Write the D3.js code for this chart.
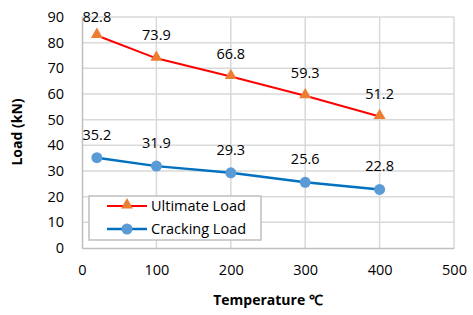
<!doctype html>
<html>
<head>
  <script src="https://d3js.org/d3.v7.min.js"></script>
  <style>
    body { margin: 0; background: #fff; }
    text { font-family: "Open Sans", "Liberation Sans", sans-serif; fill: #000; }
  </style>
</head>
<body>
<svg width="473" height="315"></svg>
<script>
  // chart values
  var temps = [20, 100, 200, 300, 400];
  var ultimate = [82.8, 73.9, 66.8, 59.3, 51.2];
  var cracking = [35.2, 31.9, 29.3, 25.6, 22.8];
  var xTicks = [0, 100, 200, 300, 400, 500];
  var yTicks = [0, 10, 20, 30, 40, 50, 60, 70, 80, 90];
  var seriesNames = ["Ultimate Load", "Cracking Load"];

  var svg = d3.select("svg");
  var x = d3.scaleLinear().domain([0, 500]).range([82, 454]);
  var y = d3.scaleLinear().domain([0, 90]).range([248, 17]);

  // grid
  svg.append("g").selectAll("line").data(yTicks.slice(1)).enter().append("line")
    .attr("x1", x(0)).attr("x2", x(500))
    .attr("y1", function(d) { return y(d) }).attr("y2", function(d) { return y(d) })
    .attr("stroke", "#d9d9d9").attr("stroke-width", 1.5)
  svg.append("g").selectAll("line").data(xTicks.slice(1)).enter().append("line")
    .attr("x1", function(d) { return x(d) }).attr("x2", function(d) { return x(d) })
    .attr("y1", y(0)).attr("y2", y(90))
    .attr("stroke", "#d9d9d9").attr("stroke-width", 1.5)

  // axes
  var xAxis = d3.axisBottom(x).tickValues(xTicks).tickSize(0).tickPadding(17);
  var yAxis = d3.axisLeft(y).tickValues(yTicks).tickSize(0).tickPadding(18);
  var gx = svg.append("g").attr("transform", "translate(0," + y(0) + ")").call(xAxis);
  var gy = svg.append("g").attr("transform", "translate(" + x(0) + ",0)").call(yAxis);
  [gx, gy].forEach(function(g) {
    g.select(".domain").attr("stroke", "#bfbfbf").attr("stroke-width", 1.5);
    g.selectAll("text").attr("font-size", "14.5px").attr("font-family", "Open Sans, sans-serif");
  });

  svg.append("text")
    .attr("x", 268).attr("y", 305)
    .attr("text-anchor", "middle")
    .attr("font-size", "14px").attr("font-weight", "bold")
    .text("Temperature \u2103");
  svg.append("text")
    .attr("transform", "translate(22," + 132 + ") rotate(-90)")
    .attr("text-anchor", "middle")
    .attr("font-size", "14px").attr("font-weight", "bold")
    .text("Load (kN)");

  var line = d3.line()
    .x(function(d, i) { return x(temps[i]) })
    .y(function(d) { return y(d) });

  function labelY(d) { return Math.max(y(d) - 18, 22) }

  // ultimate load
  svg.append("path").datum(ultimate).attr("d", line)
    .attr("fill", "none").attr("stroke", "#ff0000").attr("stroke-width", 2);
  var tri = d3.symbol().type(d3.symbolTriangle).size(62);
  svg.append("g").selectAll("path").data(ultimate).enter().append("path")
    .attr("d", tri)
    .attr("transform", function(d, i) { return "translate(" + x(temps[i]) + "," + (y(d) - 1) + ")" })
    .attr("fill", "#ed7d31");
  svg.append("g").selectAll("text").data(ultimate).enter().append("text")
    .attr("x", function(d, i) { return x(temps[i]) })
    .attr("y", labelY)
    .attr("text-anchor", "middle").attr("font-size", "14.5px")
    .text(function(d) { return d.toFixed(1) });

  // cracking load
  svg.append("path").datum(cracking).attr("d", line)
    .attr("fill", "none").attr("stroke", "#0070c0").attr("stroke-width", 2.5);
  svg.append("g").selectAll("circle").data(cracking).enter().append("circle")
    .attr("cx", function(d, i) { return x(temps[i]) })
    .attr("cy", function(d) { return y(d) })
    .attr("r", 5.5)
    .attr("fill", "#5b9bd5");
  svg.append("g").selectAll("text").data(cracking).enter().append("text")
    .attr("x", function(d, i) { return x(temps[i]) })
    .attr("y", labelY)
    .attr("text-anchor", "middle").attr("font-size", "14.5px")
    .text(function(d) { return d.toFixed(1) });

  // legend
  var leg = svg.append("g");
  leg.append("rect").attr("x", 89).attr("y", 196).attr("width", 172).attr("height", 44)
    .attr("fill", "#fff").attr("stroke", "#bfbfbf").attr("stroke-width", 1.5);
  var rows = [206, 229];
  leg.append("line").attr("x1", 107).attr("x2", 147).attr("y1", rows[0]).attr("y2", rows[0])
    .attr("stroke", "#ff0000").attr("stroke-width", 2);
  leg.append("path").attr("d", tri).attr("transform", "translate(127," + (rows[0] - 1) + ")").attr("fill", "#ed7d31");
  leg.append("line").attr("x1", 107).attr("x2", 147).attr("y1", rows[1]).attr("y2", rows[1])
    .attr("stroke", "#0070c0").attr("stroke-width", 2.5);
  leg.append("circle").attr("cx", 127).attr("cy", rows[1]).attr("r", 5.5).attr("fill", "#5b9bd5");
  leg.selectAll("text.lab").data(seriesNames).enter().append("text")
    .attr("x", 151).attr("y", function(d, i) { return rows[i] + 5 })
    .attr("font-size", "14.5px")
    .text(function(d) { return d });
</script>
</body>
</html>
